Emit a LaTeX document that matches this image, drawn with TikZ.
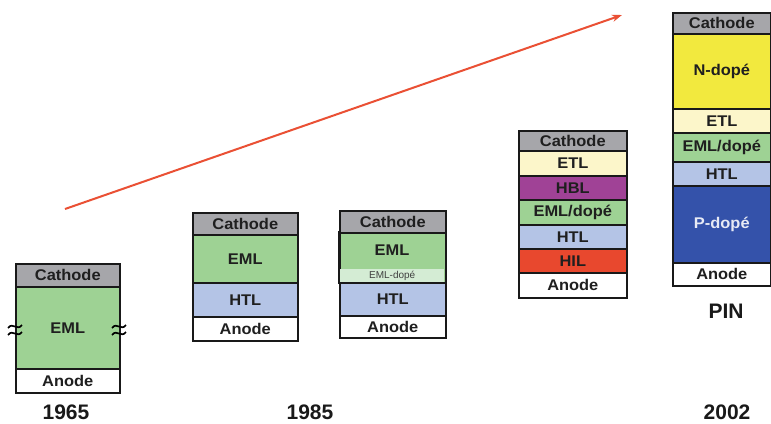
\documentclass[tikz,border=0pt]{standalone}
\usepackage{fontspec}
\setmainfont{Liberation Sans}
\usetikzlibrary{arrows.meta}
\definecolor{cath}{RGB}{166,166,170}
\definecolor{eml}{RGB}{158,210,148}
\definecolor{emlband}{RGB}{212,236,212}
\definecolor{htl}{RGB}{180,196,230}
\definecolor{etl}{RGB}{252,246,202}
\definecolor{hbl}{RGB}{160,66,150}
\definecolor{hil}{RGB}{232,72,46}
\definecolor{ndope}{RGB}{242,233,62}
\definecolor{pdope}{RGB}{52,82,170}
\definecolor{arrowred}{RGB}{234,80,52}
\newcommand\Lb[1]{\scalebox{1.06}[1]{#1}}
\tikzset{
  layer/.style={draw=black!90, line width=1.6pt, anchor=north west, inner sep=0pt,
    font=\bfseries\fontsize{15.5}{17}\selectfont, text=black!88},
  year/.style={font=\bfseries\fontsize{21}{24}\selectfont, text=black!90, inner sep=0pt},
  brk/.style={line width=1.7pt, black},
  arrowline/.style={draw=arrowred, line width=2pt, -{Stealth[length=10pt,width=7pt]}}
}
\begin{document}
\begin{tikzpicture}[x=1pt,y=-1pt]
\useasboundingbox[fill=white] (0,0) rectangle (771,423);

% arrow
\coordinate (a0) at (65,209);
\coordinate (a1) at (622,15);
\draw[arrowline] (a0) -- (a1);

% stack 1 (1965)
\node[layer, fill=white, minimum width=104pt, minimum height=24pt] (s1a) at (15,368) {\Lb{Anode}};
\node[layer, fill=eml, minimum width=104pt, minimum height=82pt] (s1e) at (15,286) {\Lb{EML}};
\node[layer, fill=cath, minimum width=104pt, minimum height=23pt] (s1c) at (15,263) {\Lb{Cathode}};
\foreach \xx in {15,119}{
  \foreach \dy in {-3.5,3.5}{
    \draw[brk] (\xx-7,330+\dy+1.5) .. controls (\xx-2,330+\dy-5) and (\xx+2,330+\dy+5) .. (\xx+7,330+\dy-1.5);
  }
}
\node[year] (y1) at (66,412) {1965};

% stack 2
\node[layer, fill=white, minimum width=105pt, minimum height=24pt] (s2a) at (192,316) {\Lb{Anode}};
\node[layer, fill=htl, minimum width=105pt, minimum height=34pt] (s2h) at (192,282) {\Lb{HTL}};
\node[layer, fill=eml, minimum width=105pt, minimum height=48pt] (s2e) at (192,234) {\Lb{EML}};
\node[layer, fill=cath, minimum width=105pt, minimum height=22pt] (s2c) at (192,212) {\Lb{Cathode}};

% stack 3
\node[layer, fill=white, minimum width=106pt, minimum height=22pt] (s3a) at (339,315) {\Lb{Anode}};
\node[layer, fill=htl, minimum width=106pt, minimum height=33pt] (s3h) at (339,282) {\Lb{HTL}};
\node[layer, fill=eml, minimum width=106pt, minimum height=50pt, anchor=north west] (s3e) at (339,232) {};
\node[anchor=north west, fill=emlband, minimum width=104.4pt, minimum height=13.2pt, inner sep=0pt,
      font=\fontsize{10}{12}\selectfont, text=black!75] (s3b) at (339.8,268.8) {EML-dopé};
\node[layer, anchor=center, draw=none] (s3el) at (392,250) {\Lb{EML}};
\draw[draw=black!90, line width=1.6pt] (s3e.north west) rectangle (s3e.south east);
\node[layer, fill=cath, minimum width=106pt, minimum height=22pt] (s3c) at (339,210) {\Lb{Cathode}};
\node[year] (y2) at (310,412) {1985};

% stack 4
\node[layer, fill=white, minimum width=108pt, minimum height=25pt] (s4a) at (518,272) {\Lb{Anode}};
\node[layer, fill=hil, minimum width=108pt, minimum height=24pt] (s4i) at (518,248) {\Lb{HIL}};
\node[layer, fill=htl, minimum width=108pt, minimum height=24pt] (s4h) at (518,224) {\Lb{HTL}};
\node[layer, fill=eml, minimum width=108pt, minimum height=25pt] (s4e) at (518,199) {\Lb{EML/dopé}};
\node[layer, fill=hbl, minimum width=108pt, minimum height=24pt] (s4b) at (518,175) {\Lb{HBL}};
\node[layer, fill=etl, minimum width=108pt, minimum height=25pt] (s4t) at (518,150) {\Lb{ETL}};
\node[layer, fill=cath, minimum width=108pt, minimum height=20pt] (s4c) at (518,130) {\Lb{Cathode}};

% stack 5 (PIN)
\node[layer, fill=white, minimum width=98pt, minimum height=23pt] (s5a) at (672,262) {\Lb{Anode}};
\node[layer, fill=pdope, minimum width=98pt, minimum height=77pt, text=white!88!pdope] (s5p) at (672,185) {\Lb{P-dopé}};
\node[layer, fill=htl, minimum width=98pt, minimum height=24pt] (s5h) at (672,161) {\Lb{HTL}};
\node[layer, fill=eml, minimum width=98pt, minimum height=29pt] (s5e) at (672,132) {\Lb{EML/dopé}};
\node[layer, fill=etl, minimum width=98pt, minimum height=24pt] (s5t) at (672,108) {\Lb{ETL}};
\node[layer, fill=ndope, minimum width=98pt, minimum height=75pt] (s5n) at (672,33) {\Lb{N-dopé}};
\node[layer, fill=cath, minimum width=98pt, minimum height=21pt] (s5c) at (672,12) {\Lb{Cathode}};
\node[year] (pin) at (726,311) {PIN};
\node[year] (y3) at (727,412) {2002};
\end{tikzpicture}
\end{document}
